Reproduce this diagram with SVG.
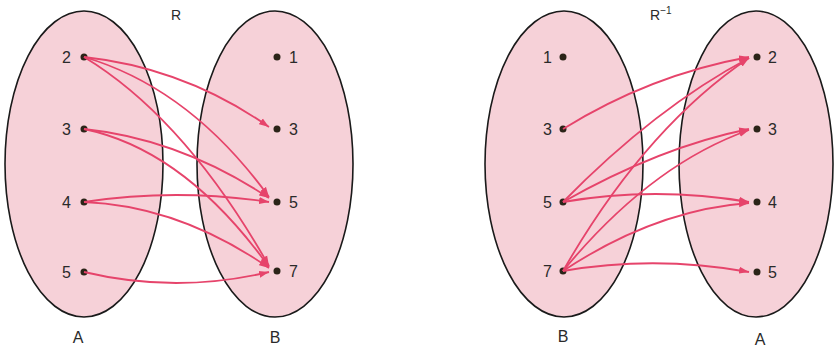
<svg xmlns="http://www.w3.org/2000/svg" width="836" height="349" viewBox="0 0 836 349">
<style>
.set{fill:#f6d1d8;stroke:#1a1a1a;stroke-width:1.6}
.dot{fill:#2b2418}
.lbl{font-family:"Liberation Sans",Arial,sans-serif;font-size:16px;fill:#2a2a2a}
.ttl{font-family:"Liberation Sans",Arial,sans-serif;font-size:14px;fill:#2a2a2a}
.arr{fill:none;stroke:#e6446b;stroke-width:1.8;marker-end:url(#ah)}
</style>
<defs>
<marker id="ah" markerUnits="userSpaceOnUse" markerWidth="11" markerHeight="8" refX="10" refY="4" orient="auto">
<path d="M0,0.5 L10,4 L0,7.5 Z" fill="#e6446b"/>
</marker>
</defs>
<rect width="836" height="349" fill="#ffffff"/>
<text class="ttl" x="176" y="20" text-anchor="middle">R</text>
<text class="ttl" x="650" y="20">R<tspan font-size="10" dy="-6">−1</tspan></text>
<g id="setA1">
<ellipse class="set" cx="84" cy="164" rx="79" ry="153"/>
<text class="lbl" x="78" y="343" text-anchor="middle">A</text>
</g>
<g id="setB1">
<ellipse class="set" cx="275" cy="164" rx="78" ry="153"/>
<text class="lbl" x="275" y="343" text-anchor="middle">B</text>
</g>
<g id="setB2">
<ellipse class="set" cx="564" cy="164" rx="79" ry="153"/>
<text class="lbl" x="563" y="342" text-anchor="middle">B</text>
</g>
<g id="setA2">
<ellipse class="set" cx="756" cy="164" rx="77" ry="153"/>
<text class="lbl" x="760" y="345" text-anchor="middle">A</text>
</g>
<g id="a1_2"><circle class="dot" cx="84" cy="57" r="3.5"/><text class="lbl" x="71" y="63" text-anchor="end">2</text></g>
<g id="a1_3"><circle class="dot" cx="84" cy="129" r="3.5"/><text class="lbl" x="71" y="135" text-anchor="end">3</text></g>
<g id="a1_4"><circle class="dot" cx="84" cy="202" r="3.5"/><text class="lbl" x="71" y="208" text-anchor="end">4</text></g>
<g id="a1_5"><circle class="dot" cx="84" cy="272" r="3.5"/><text class="lbl" x="71" y="278" text-anchor="end">5</text></g>
<g id="b1_1"><circle class="dot" cx="277" cy="57" r="3.5"/><text class="lbl" x="289" y="63">1</text></g>
<g id="b1_3"><circle class="dot" cx="277" cy="129" r="3.5"/><text class="lbl" x="289" y="135">3</text></g>
<g id="b1_5"><circle class="dot" cx="277" cy="202" r="3.5"/><text class="lbl" x="289" y="208">5</text></g>
<g id="b1_7"><circle class="dot" cx="277" cy="271" r="3.5"/><text class="lbl" x="289" y="277">7</text></g>
<g id="b2_1"><circle class="dot" cx="563" cy="57" r="3.5"/><text class="lbl" x="552" y="63" text-anchor="end">1</text></g>
<g id="b2_3"><circle class="dot" cx="563" cy="129" r="3.5"/><text class="lbl" x="552" y="135" text-anchor="end">3</text></g>
<g id="b2_5"><circle class="dot" cx="563" cy="202" r="3.5"/><text class="lbl" x="552" y="208" text-anchor="end">5</text></g>
<g id="b2_7"><circle class="dot" cx="563" cy="271" r="3.5"/><text class="lbl" x="552" y="277" text-anchor="end">7</text></g>
<g id="a2_2"><circle class="dot" cx="757" cy="57" r="3.5"/><text class="lbl" x="768" y="63">2</text></g>
<g id="a2_3"><circle class="dot" cx="757" cy="129" r="3.5"/><text class="lbl" x="768" y="135">3</text></g>
<g id="a2_4"><circle class="dot" cx="757" cy="202" r="3.5"/><text class="lbl" x="768" y="208">4</text></g>
<g id="a2_5"><circle class="dot" cx="757" cy="272" r="3.5"/><text class="lbl" x="768" y="278">5</text></g>
<g id="connectors">
<path class="arr" d="M84,57 Q185,68 269,127"/>
<path class="arr" d="M84,57 Q190,88 269,197"/>
<path class="arr" d="M84,57 Q185,118 269,266"/>
<path class="arr" d="M84,129 Q180,139 269,198"/>
<path class="arr" d="M84,129 Q185,150 269,267"/>
<path class="arr" d="M84,202 Q176,188 269,202"/>
<path class="arr" d="M84,202 Q180,206 269,268"/>
<path class="arr" d="M84,272 Q176,294 269,272"/>
<path class="arr" d="M563,129 Q650,75 749,57"/>
<path class="arr" d="M563,202 Q655,108 749,58"/>
<path class="arr" d="M563,271 Q645,128 749,58"/>
<path class="arr" d="M563,202 Q660,147 749,129"/>
<path class="arr" d="M563,271 Q650,165 749,130"/>
<path class="arr" d="M563,202 Q655,186 749,202"/>
<path class="arr" d="M563,271 Q655,210 749,203"/>
<path class="arr" d="M563,271 Q655,255 749,272"/>
</g>
</svg>
